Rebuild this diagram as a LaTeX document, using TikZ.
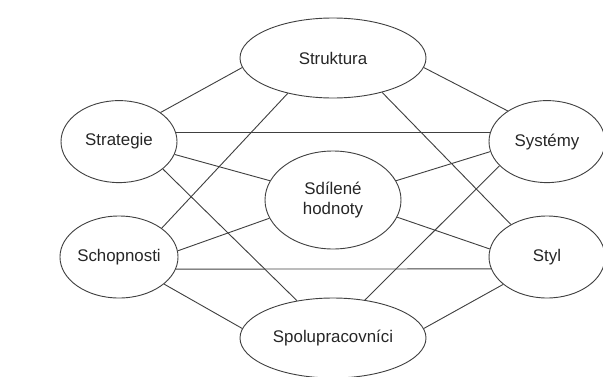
\documentclass[tikz,border=0pt]{standalone}
\usepackage{fontspec}
\setmainfont{Liberation Sans}
\usetikzlibrary{shapes.geometric}
\begin{document}
\begin{tikzpicture}[
  every node/.style={ellipse, draw=black!75, line width=0.65pt, inner sep=0pt,
    text=black!85, font=\fontsize{12}{14}\selectfont, align=center},
  small/.style={minimum width=2.9cm, minimum height=2.05cm},
  wide/.style={minimum width=4.65cm, minimum height=2cm},
  link/.style={draw=black!75, line width=0.65pt}
]
\useasboundingbox (0,0) rectangle (15.075,9.4);
\node[wide] (struktura) at (8.325,7.95) {Struktura};
\node[small] (strategie) at (2.975,5.86) {Strategie};
\node[small] (systemy) at (13.675,5.86) {Systémy};
\node[minimum width=3.4cm, minimum height=2.45cm] (hodnoty) at (8.325,4.4) {Sdílené\\hodnoty};
\node[small] (schopnosti) at (2.975,2.975) {Schopnosti};
\node[small] (styl) at (13.675,2.975) {Styl};
\node[wide] (spolu) at (8.325,0.95) {Spolupracovníci};
% struktura
\draw[link] (strategie.35) -- (struktura.186);
\draw[link] (struktura.-6) -- (systemy.142);
\draw[link] (struktura.218) -- (schopnosti.34);
\draw[link] (struktura.-35) -- (styl.138);
% strategie
\draw[link] (strategie.9) -- (systemy.171);
\draw[link] (strategie.-13) -- (hodnoty.163);
\draw[link] (strategie.-32) -- (spolu.134);
% systemy
\draw[link] (systemy.190) -- (hodnoty.17);
\draw[link] (systemy.207) -- (spolu.50);
% schopnosti
\draw[link] (schopnosti.6) -- (hodnoty.196);
\draw[link] (schopnosti.-12) -- (styl.192);
\draw[link] (schopnosti.-31) -- (spolu.174);
% styl
\draw[link] (hodnoty.-15) -- (styl.172);
\draw[link] (styl.212) -- (spolu.6);
\end{tikzpicture}
\end{document}
